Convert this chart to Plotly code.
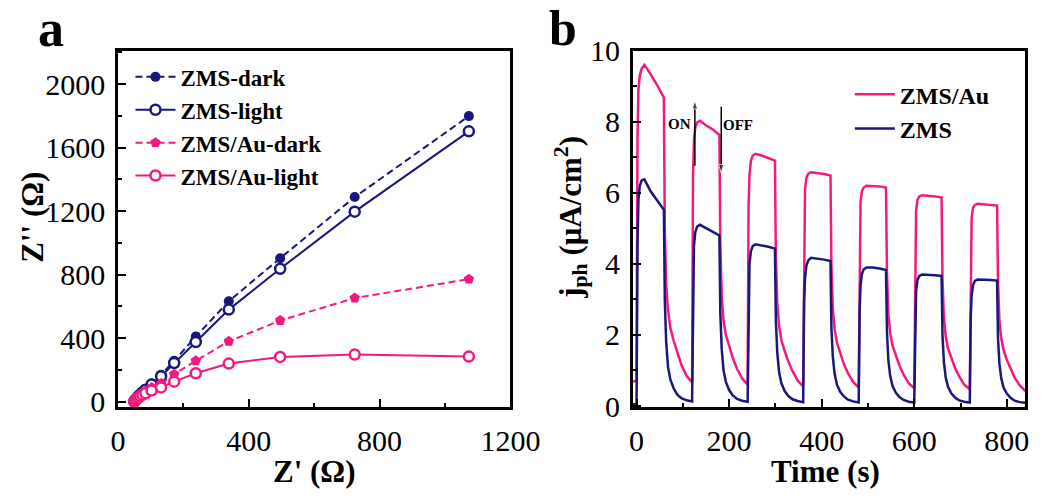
import plotly.graph_objects as go

# ---------------- Panel a: Nyquist data ----------------
z_real = [50, 53, 57, 62, 68, 75, 84, 103, 132, 172, 238, 339, 496, 724, 1073]
zms_dark = [0, 10, 21, 32, 45, 60, 78, 113, 168, 257, 409, 632, 903, 1288, 1798]
zms_light = [0, 10, 20, 31, 43, 57, 74, 108, 160, 243, 375, 579, 836, 1196, 1702]
au_dark = [0, 9, 19, 29, 40, 52, 66, 88, 113, 172, 257, 379, 510, 652, 771]
au_light = [0, 8, 16, 25, 34, 43, 52, 69, 89, 125, 178, 239, 281, 296, 283]

# ---------------- Panel b: photocurrent data ----------------
time_s = [-8, 0, 2, 4, 7, 11, 17, 30, 45, 59, 61, 64, 68, 73, 80, 88, 97, 108,
          120, 122, 124, 127, 131, 137, 150, 165, 179, 181, 184, 188, 193, 200, 208, 217, 228,
          240, 242, 244, 247, 251, 257, 270, 285, 299, 301, 304, 308, 313, 320, 328, 337, 348,
          360, 362, 364, 367, 371, 377, 390, 405, 419, 421, 424, 428, 433, 440, 448, 457, 468,
          480, 482, 484, 487, 491, 497, 510, 525, 539, 541, 544, 548, 553, 560, 568, 577, 588,
          600, 602, 604, 607, 611, 617, 630, 645, 659, 661, 664, 668, 673, 680, 688, 697, 708,
          720, 722, 724, 727, 731, 737, 750, 765, 779, 781, 784, 788, 793, 800, 808, 817, 828,
          840]
j_zms_au = [0.70, 0.70, 7.5, 8.9, 9.3, 9.5, 9.6, 9.35, 9.02, 8.68, 5.0, 3.4, 2.7, 2.2, 1.85, 1.5, 1.15, 0.85,
            0.66, 6.5, 7.5, 7.85, 7.98, 8.03, 7.9, 7.78, 7.63, 4.6, 3.1, 2.4, 2.0, 1.7, 1.35, 1.05, 0.78,
            0.60, 5.6, 6.5, 6.9, 7.05, 7.1, 7.05, 6.98, 6.91, 4.2, 2.9, 2.25, 1.85, 1.55, 1.25, 0.98, 0.72,
            0.55, 5.2, 6.1, 6.42, 6.54, 6.58, 6.56, 6.53, 6.49, 4.0, 2.75, 2.15, 1.78, 1.48, 1.18, 0.92, 0.68,
            0.52, 4.9, 5.75, 6.05, 6.15, 6.2, 6.2, 6.18, 6.15, 3.8, 2.6, 2.05, 1.7, 1.42, 1.14, 0.88, 0.64,
            0.50, 4.7, 5.5, 5.8, 5.9, 5.93, 5.92, 5.9, 5.87, 3.6, 2.5, 1.95, 1.62, 1.35, 1.08, 0.84, 0.60,
            0.47, 4.5, 5.3, 5.58, 5.66, 5.69, 5.68, 5.66, 5.64, 3.5, 2.4, 1.9, 1.58, 1.3, 1.04, 0.80, 0.58,
            0.42]
j_zms = [0.05, 0.05, 4.5, 5.8, 6.2, 6.35, 6.38, 6.05, 5.78, 5.52, 3.0, 1.8, 1.1, 0.75, 0.5, 0.32, 0.22, 0.16,
         0.13, 3.5, 4.5, 4.9, 5.05, 5.1, 5.0, 4.9, 4.8, 2.6, 1.6, 1.0, 0.68, 0.45, 0.3, 0.2, 0.15,
         0.12, 3.1, 4.0, 4.35, 4.5, 4.55, 4.52, 4.48, 4.43, 2.4, 1.5, 0.95, 0.64, 0.42, 0.28, 0.19, 0.14,
         0.11, 2.9, 3.6, 3.95, 4.1, 4.17, 4.15, 4.12, 4.08, 2.2, 1.4, 0.9, 0.6, 0.4, 0.27, 0.18, 0.13,
         0.10, 2.7, 3.4, 3.72, 3.85, 3.9, 3.9, 3.87, 3.83, 2.1, 1.3, 0.85, 0.57, 0.38, 0.25, 0.17, 0.12,
         0.10, 2.6, 3.25, 3.55, 3.66, 3.7, 3.7, 3.68, 3.66, 2.0, 1.25, 0.8, 0.54, 0.36, 0.24, 0.16, 0.12,
         0.10, 2.5, 3.1, 3.4, 3.52, 3.56, 3.56, 3.55, 3.53, 1.9, 1.2, 0.78, 0.52, 0.35, 0.23, 0.15, 0.11,
         0.09]

# ON / OFF arrow positions (time, start value, end value)
on_arrow = [126, 6.76, 8.6]
off_arrow = [183, 8.42, 6.56]

NAVY = "#17177c"
PINK = "#f5197f"
FONT = "Liberation Serif"

fig = go.Figure()

fig.add_trace(go.Scatter(x=z_real, y=zms_dark, name="<b>ZMS-dark</b>", mode="lines+markers",
                         line=dict(color=NAVY, width=2, dash="7px,4px"),
                         marker=dict(symbol="circle", size=10, color=NAVY),
                         xaxis="x", yaxis="y", legend="legend"))
fig.add_trace(go.Scatter(x=z_real, y=zms_light, name="<b>ZMS-light</b>", mode="lines+markers",
                         line=dict(color=NAVY, width=2),
                         marker=dict(symbol="circle", size=10, color="white", line=dict(color=NAVY, width=2.5)),
                         xaxis="x", yaxis="y", legend="legend"))
fig.add_trace(go.Scatter(x=z_real, y=au_dark, name="<b>ZMS/Au-dark</b>", mode="lines+markers",
                         line=dict(color=PINK, width=2, dash="7px,4px"),
                         marker=dict(symbol="pentagon", size=11, color=PINK),
                         xaxis="x", yaxis="y", legend="legend"))
fig.add_trace(go.Scatter(x=z_real, y=au_light, name="<b>ZMS/Au-light</b>", mode="lines+markers",
                         line=dict(color=PINK, width=2),
                         marker=dict(symbol="circle", size=10, color="white", line=dict(color=PINK, width=2.5)),
                         xaxis="x", yaxis="y", legend="legend"))

fig.add_trace(go.Scatter(x=time_s, y=j_zms_au, name="<b>ZMS/Au</b>", mode="lines",
                         line=dict(color=PINK, width=2.5),
                         xaxis="x2", yaxis="y2", legend="legend2"))
fig.add_trace(go.Scatter(x=time_s, y=j_zms, name="<b>ZMS</b>", mode="lines",
                         line=dict(color=NAVY, width=2.5),
                         xaxis="x2", yaxis="y2", legend="legend2"))

for arr in (on_arrow, off_arrow):
    fig.add_trace(go.Scatter(x=[arr[0], arr[0]], y=[arr[1], arr[2]], mode="lines+markers",
                             line=dict(color="black", width=1.5),
                             marker=dict(symbol="arrow", angleref="previous", size=[0, 9], color="black"),
                             xaxis="x2", yaxis="y2", showlegend=False, hoverinfo="skip"))

W, H = 1064, 499
ax_common = dict(showline=True, linewidth=2.5, linecolor="black", mirror=True,
                 showgrid=False, zeroline=False, ticks="inside", ticklen=8, tickwidth=2,
                 tickcolor="black", tickfont=dict(family=FONT, size=30, color="black"))
ydom = [(H - 417) / H, (H - 37) / H]
minor_common = dict(ticks="inside", ticklen=4, tickwidth=2, tickcolor="black")

fig.update_layout(
    width=W, height=H, margin=dict(l=0, r=0, t=0, b=0),
    paper_bgcolor="white", plot_bgcolor="white",
    font=dict(family=FONT, color="black"),
    xaxis=dict(domain=[114 / W, 521 / W], range=[0, 1200], tickvals=[0, 400, 800, 1200],
               minor=dict(dtick=200, **minor_common), ticklabelstandoff=5,
               anchor="y", **ax_common),
    yaxis=dict(domain=ydom, range=[-35, 2210], tickvals=[0, 400, 800, 1200, 1600, 2000],
               minor=dict(dtick=200, **minor_common), ticklabelstandoff=4,
               anchor="x", **ax_common),
    xaxis2=dict(domain=[648 / W, 1055 / W], range=[-8, 840], tickvals=[0, 200, 400, 600, 800],
                minor=dict(dtick=100, **minor_common), ticklabelstandoff=5,
                anchor="y2", **ax_common),
    yaxis2=dict(domain=ydom, range=[-0.03, 10], tickvals=[0, 2, 4, 6, 8, 10],
                minor=dict(dtick=1, **minor_common), ticklabelstandoff=4,
                anchor="x2", **ax_common),
    legend=dict(x=127 / W, y=(H - 42) / H, xanchor="left", yanchor="top",
                bgcolor="rgba(0,0,0,0)", font=dict(family=FONT, size=23, color="black"),
                tracegroupgap=0, itemwidth=40),
    legend2=dict(x=873 / W, y=(H - 60) / H, xanchor="left", yanchor="top",
                 bgcolor="rgba(0,0,0,0)", font=dict(family=FONT, size=24, color="black"),
                 tracegroupgap=0, itemwidth=40),
    showlegend=True,
)

annots = [
    dict(text="<b>a</b>", x=45 / W, y=1 - 13 / H, size=52, angle=0),
    dict(text="<b>b</b>", x=576 / W, y=1 - 13 / H, size=50, angle=0),
    dict(text="<b>Z' (Ω)</b>", x=318 / W, y=1 - 486 / H, size=31, angle=0),
    dict(text="<b>Time (s)</b>", x=848 / W, y=1 - 486 / H, size=31, angle=0),
    dict(text="<b>Z'' (Ω)</b>", x=26 / W, y=1 - 215 / H, size=31, angle=-90),
    dict(text="<b>j<sub>ph</sub> (μA/cm<sup>2</sup>)</b>", x=583 / W, y=1 - 215 / H, size=31, angle=-90),
]
for a in annots:
    fig.add_annotation(xref="paper", yref="paper", showarrow=False,
                       xanchor="center", yanchor="middle",
                       text=a["text"], x=a["x"], y=a["y"], textangle=a["angle"],
                       font=dict(family=FONT, color="black", size=a["size"]))

fig.add_annotation(xref="x2", yref="y2", x=92, y=7.93, text="<b>ON</b>", showarrow=False,
                   font=dict(family=FONT, size=15, color="black"))
fig.add_annotation(xref="x2", yref="y2", x=220, y=7.9, text="<b>OFF</b>", showarrow=False,
                   font=dict(family=FONT, size=15, color="black"))

fig.write_html("out.html")
